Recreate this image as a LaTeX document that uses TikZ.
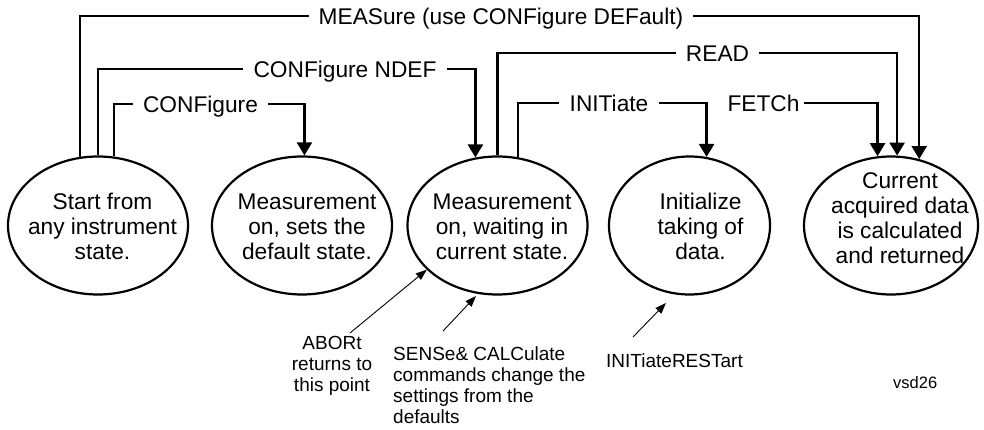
\documentclass[tikz,border=0pt]{standalone}
\usepackage{fontspec}
\setmainfont{Liberation Sans}
\usetikzlibrary{shapes.geometric,arrows.meta}
\tikzset{
 ell/.style={draw, ellipse, line width=2.2pt, minimum width=180pt, minimum height=138pt, inner sep=0pt},
 etext/.style={align=center, font=\fontsize{22.7}{25}\selectfont, inner sep=0pt},
 lab/.style={font=\fontsize{22.7}{25}\selectfont, inner xsep=10pt, inner ysep=0pt, text height=16.3pt, text depth=0pt},
 wire/.style={line width=2.2pt},
 conn/.style={line width=2.2pt, -{Triangle[length=13pt,width=15pt]}},
 note/.style={font=\fontsize{19}{21}\selectfont, inner sep=0pt},
 thinarrow/.style={line width=0.9pt, -{Triangle[length=11pt,width=8pt]}}
}
\begin{document}
\begin{tikzpicture}[x=1pt,y=-1pt]
\useasboundingbox (0,0) rectangle (984,430);
% ellipses
\node[ell] (e1) at (98,225.5) {};
\node[ell] (e2) at (302,225.5) {};
\node[ell] (e3) at (497.5,225.5) {};
\node[ell, minimum width=161pt] (e4) at (689.5,225.5) {};
\node[ell, minimum width=174pt] (e5) at (891,225.5) {};
\node[etext] (t1) at (102.5,226.5) {Start from\\any instrument\\state.};
\node[etext] (t2) at (307,226.5) {Measurement\\on, sets the\\default state.};
\node[etext] (t3) at (502,226.5) {Measurement\\on, waiting in\\current state.};
\node[etext] (t4) at (700.5,226.5) {Initialize\\taking of\\data.};
\node[etext] (t5) at (900,218) {Current\\acquired data\\is calculated\\and returned};
% labels
\node[lab] (lMeas) at (501,16) {MEASure (use CONFigure DEFault)};
\node[lab] (lNdef) at (345,69) {CONFigure NDEF};
\node[lab] (lConf) at (200.5,104) {CONFigure};
\node[lab] (lRead) at (717.5,53) {READ};
\node[lab] (lInit) at (609,103) {INITiate};
\node[lab, inner xsep=4pt] (lFetch) at (763.5,103) {FETCh};
% connectors
\draw[wire] (e1.105.7) |- (lMeas.west);
\draw[conn] (lMeas.east) -| (e5.67.6);
\draw[wire] (e1.90.8) |- (lNdef.west);
\draw[conn] (lNdef.east) -| (e3.108.6);
\draw[wire] (e1.77.6) |- (lConf.west);
\draw[conn] (lConf.east) -| (e2.88.3);
\draw[wire] (e3.90.4) |- (lRead.west);
\draw[conn] (lRead.east) -| (e5.85);
\draw[wire] (e3.73.8) |- (lInit.west);
\draw[conn] (lInit.east) -| (e4.76.7);
\draw[conn] (lFetch.east) -| (e5.101.6);
% notes
\node[note, align=center, anchor=north] (nAbort) at (332,336) {ABORt\\returns to\\this point};
\node[note, align=left, anchor=north west] (nSense) at (393,347) {SENSe\& CALCulate\\commands change the\\settings from the\\defaults};
\node[note, anchor=base west] (nRest) at (606,367) {INITiateRESTart};
\node[font=\fontsize{16.5}{18}\selectfont, inner sep=0pt, anchor=base west] (vsd) at (893,388) {vsd26};
\coordinate (aS) at (350,333);
\coordinate (sS) at (443,331);
\coordinate (sE) at (476,296);
\coordinate (iS) at (633,337);
\coordinate (iE) at (666,303);
\draw[thinarrow] (aS) -- (e3.212);
\draw[thinarrow] (sS) -- (sE);
\draw[thinarrow] (iS) -- (iE);
\end{tikzpicture}
\end{document}
